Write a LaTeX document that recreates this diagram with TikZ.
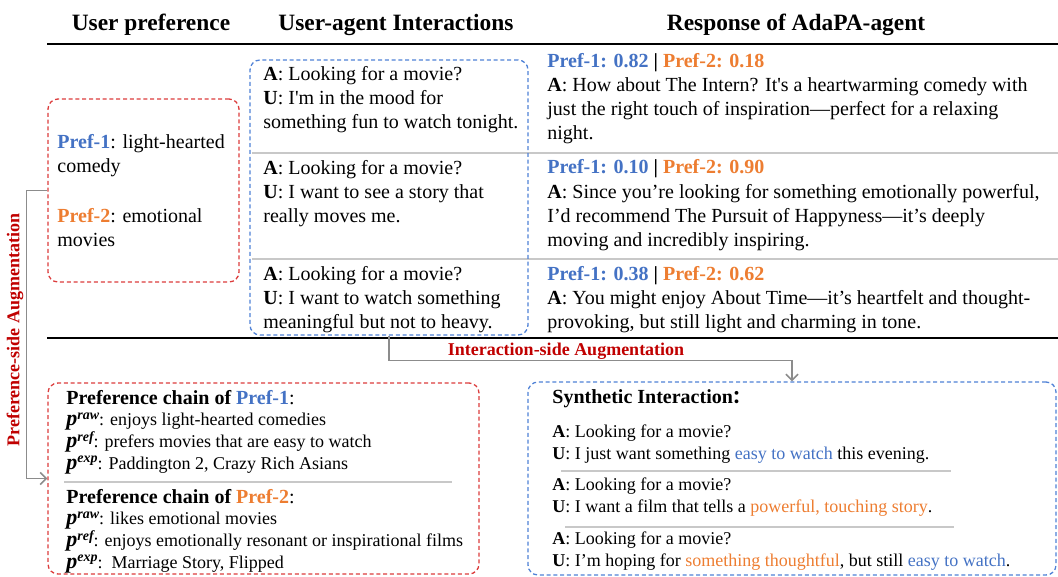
\documentclass[tikz,border=0pt]{standalone}
\usepackage{fontspec}
\setmainfont{Liberation Serif}
\newfontfamily\cjk{Noto Sans CJK SC}
\usetikzlibrary{arrows.meta,positioning,fit}
\definecolor{prefblue}{HTML}{4472C4}
\definecolor{preforange}{HTML}{ED7D31}
\definecolor{augred}{HTML}{C00000}
\definecolor{boxred}{HTML}{DC3C3C}
\definecolor{boxblue}{HTML}{4F81D6}
\definecolor{flowgray}{HTML}{8C8C8C}
\definecolor{rulegray}{HTML}{C8C8C8}

\newcommand{\pone}{\textcolor{prefblue}{Pref-1}}
\newcommand{\ptwo}{\textcolor{preforange}{Pref-2}}
\newcommand{\pvar}[1]{{\fontsize{11}{11}\selectfont\bfseries\itshape p}\raisebox{0.75ex}{\fontsize{7}{7}\selectfont\bfseries\itshape #1}}
\newcommand{\scores}[2]{\textbf{\textcolor{prefblue}{Pref-1: #1} | \textcolor{preforange}{Pref-2: #2}}}

\begin{document}
\begin{tikzpicture}[
    x=0.5pt, y=-0.5pt,
    hdr/.style={font=\fontsize{11.7}{14}\selectfont\bfseries, anchor=base, inner sep=0pt},
    % multi-line nodes sit on the baseline of their last line
    txt/.style={font=\fontsize{10}{12}\selectfont, align=left, anchor=base west, inner sep=0pt},
    small/.style={font=\fontsize{9}{10.8}\selectfont, align=left, anchor=base west, inner sep=0pt},
    syn/.style={font=\fontsize{9}{11}\selectfont, align=left, anchor=base west, inner sep=0pt},
    dbox/.style={rounded corners=5pt, dash pattern=on 2pt off 1.4pt, line width=0.65pt, inner sep=0pt},
    redbox/.style={dbox, draw=boxred},
    bluebox/.style={dbox, draw=boxblue},
    augarr/.style={draw=flowgray, line width=0.8pt, -{Straight Barb[length=3pt,width=6pt]}},
    auglbl/.style={font=\fontsize{9}{11}\selectfont\bfseries, text=augred, inner sep=0pt},
    sep/.style={draw=rulegray, line width=0.6pt}
  ]
  \useasboundingbox (0,0) rectangle (1058,577);

  % ---- Column headers and rules ----
  \node[hdr] (hpref) at (151,31) {User preference};
  \node[hdr] (hinter) at (396,31) {User-agent Interactions};
  \node[hdr] (hresp) at (796,31) {Response of AdaPA-agent};
  \draw[line width=0.8pt] (47,44) -- (1058,44);
  \draw[line width=0.8pt] (47,338) -- (1058,338);
  \draw[sep] (252,153) -- (1058,153);
  \draw[sep] (252,259) -- (1058,259);

  % ---- User preference ----
  \node[redbox, fit={(48,99) (239,282)}] (pref) {};
  \node[txt] (prefa) at (57,173) {\textbf{\pone}: light-hearted\\comedy};
  \node[txt] (prefb) at (57,246) {\textbf{\ptwo}: emotional\\movies};

  % ---- Interactions ----
  \node[bluebox, fit={(250,60) (528,335)}] (inter) {};
  \node[txt] (ia) at (263,129) {\textbf{A}: Looking for a movie?\\\textbf{U}: I\textquotesingle m in the mood for\\something fun to watch tonight.};
  \node[txt] (ib) at (263,222) {\textbf{A}: Looking for a movie?\\\textbf{U}: I want to see a story that\\really moves me.};
  \node[txt] (ic) at (263,328) {\textbf{A}: Looking for a movie?\\\textbf{U}: I want to watch something\\meaningful but not to heavy.};

  % ---- Responses ----
  \node[txt] (ra) at (547,140) {\scores{0.82}{0.18}\\\textbf{A}: How about The Intern? It\textquotesingle s a heartwarming comedy with\\just the right touch of inspiration---perfect for a relaxing\\night.};
  \node[txt] (rb) at (547,246) {\scores{0.10}{0.90}\\\textbf{A}: Since you’re looking for something emotionally powerful,\\I’d recommend The Pursuit of Happyness---it’s deeply\\moving and incredibly inspiring.};
  \node[txt] (rc) at (547,328) {\scores{0.38}{0.62}\\\textbf{A}: You might enjoy About Time---it’s heartfelt and thought-\\provoking, but still light and charming in tone.};

  % ---- Preference chains ----
  \node[redbox, fit={(48,383) (479,574)}] (chain) {};
  \node[small] (chaina) at (66,469) {{\fontsize{10}{10.8}\selectfont\textbf{Preference chain of \pone}:}\\\pvar{raw}: enjoys light-hearted comedies\\\pvar{ref}: prefers movies that are easy to watch\\\pvar{exp}: Paddington 2, Crazy Rich Asians};
  \draw[sep] (64,482) -- (452,482);
  \node[small] (chainb) at (66,568) {{\fontsize{10}{10.8}\selectfont\textbf{Preference chain of \ptwo}:}\\\pvar{raw}: likes emotional movies\\\pvar{ref}: enjoys emotionally resonant or inspirational films\\\pvar{exp}:\ \ Marriage Story, Flipped};

  % ---- Synthetic interactions ----
  \node[bluebox, fit={(528,382) (1056,575)}] (synth) {};
  \node[anchor=base west, inner sep=0pt, font=\fontsize{10}{12}\selectfont\bfseries] (stitle) at (552,403) {Synthetic Interaction{\cjk\fontsize{9}{9}\selectfont ：}};
  \node[syn] (sa) at (552,459) {\textbf{A}: Looking for a movie?\\\textbf{U}: I just want something \textcolor{prefblue}{easy to watch} this evening.};
  \draw[sep] (561,471) -- (951,471);
  \node[syn] (sb) at (552,512) {\textbf{A}: Looking for a movie?\\\textbf{U}: I want a film that tells a \textcolor{preforange}{powerful, touching story}.};
  \draw[sep] (565,527) -- (954,527);
  \node[syn] (sc) at (552,566) {\textbf{A}: Looking for a movie?\\\textbf{U}: I’m hoping for \textcolor{preforange}{something thoughtful}, but still \textcolor{prefblue}{easy to watch}.};

  % ---- Augmentation paths ----
  \draw[augarr] (pref.west) -- ++(-21,0) |- (chain.west);
  \node[auglbl, rotate=90] (prefaug) at (15,330) {Preference-side Augmentation};
  \draw[augarr] (inter.south) -- ++(0,25) -| (synth.north);
  \node[auglbl] (interaug) at (566,351) {Interaction-side Augmentation};

\end{tikzpicture}
\end{document}
